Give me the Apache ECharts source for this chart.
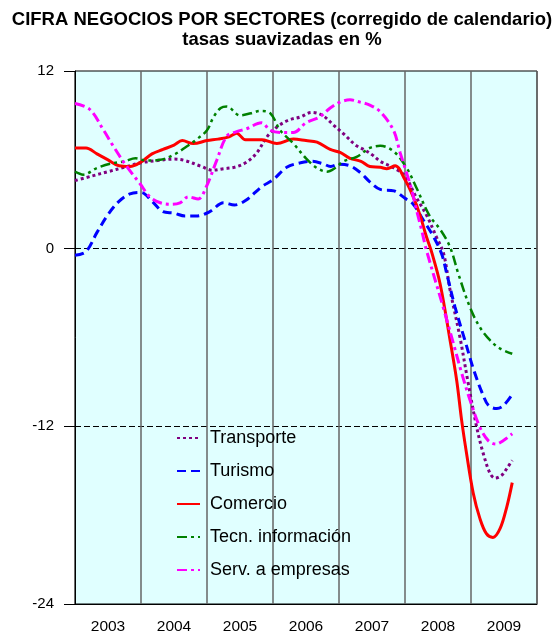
<!DOCTYPE html>
<html>
<head>
<meta charset="utf-8">
<script src="https://cdn.jsdelivr.net/npm/echarts@6/dist/echarts.min.js"></script>
<style>
html,body{margin:0;padding:0;background:#fff;}
#chart{width:559px;height:635px;}
</style>
</head>
<body>
<div id="chart"></div>
<script>
// x = month index since Jan 2003, y = %
const years = ['2003','2004','2005','2006','2007','2008','2009'];
const yTicks = [12, 0, -12, -24];

const transporte = [[0,4.6],[3,4.9],[6,5.2],[9,5.5],[12,5.8],[15,5.95],[18,6.05],[20,5.95],[23,5.55],[25,5.3],[27,5.4],[29,5.5],[31,5.8],[33,6.45],[35,7.6],[37,8.3],[39,8.7],[41,8.9],[43,9.2],[45,9.0],[47,8.35],[49,7.7],[51,7.0],[52.5,6.7],[54,6.35],[55.5,5.9],[58,5.45],[60,4.9],[62,3.5],[64,2.2],[65.7,0.8],[67,-0.3],[68.2,-2.8],[70,-6.0],[71.5,-9.1],[73,-12.0],[74.2,-13.8],[75.5,-15.2],[76.4,-15.5],[77.6,-15.3],[78.5,-14.85],[79.5,-14.3]];

const turismo = [[0,-0.45],[2,-0.2],[4,1.1],[6,2.3],[8,3.2],[10,3.7],[12,3.8],[14,3.2],[16,2.5],[18,2.4],[20,2.2],[22,2.2],[24.5,2.5],[27,3.1],[29,2.95],[31,3.25],[34,4.2],[36,4.65],[38.5,5.5],[41,5.8],[43,5.9],[45,5.75],[46.5,5.55],[48,5.7],[50,5.6],[52,5.1],[53.5,4.55],[55.5,4.0],[58,3.9],[60,3.4],[61.5,3.0],[63.3,1.95],[65.2,0.8],[66.7,-0.4],[67.6,-1.7],[69.1,-3.95],[70.9,-6.2],[72.5,-8.2],[74.1,-9.8],[75.2,-10.6],[76.7,-10.8],[77.9,-10.6],[79.5,-9.85]];

const comercio = [[0,6.8],[2,6.8],[4,6.4],[6,6.0],[8,5.6],[10,5.55],[12,5.85],[14,6.4],[16,6.7],[18,7.0],[19.5,7.3],[21.5,7.1],[24,7.3],[26,7.4],[28,7.55],[29.4,7.8],[31,7.35],[34,7.35],[36.7,7.1],[39.7,7.4],[42,7.3],[44,7.2],[46.4,6.7],[48.2,6.5],[50,6.1],[52,5.9],[53.6,5.55],[55.5,5.5],[56.7,5.4],[58.2,5.6],[60,4.65],[61.5,3.5],[62.7,2.3],[63.9,0.8],[64.9,-0.3],[66.4,-2.4],[68.2,-6.2],[69.4,-8.9],[70.3,-11.6],[71.2,-13.85],[72.4,-16.5],[73.6,-18.2],[74.8,-19.25],[76,-19.5],[77.3,-18.9],[78.5,-17.45],[79.5,-15.8]];

const tecnInfo = [[0,5.2],[1.5,5.0],[4,5.45],[6.5,5.75],[9,5.9],[11,6.1],[13,5.95],[15.5,6.0],[18,6.35],[20.3,6.9],[22,7.35],[24,8.0],[25.2,8.9],[26.5,9.5],[27.6,9.6],[30,9.0],[32,9.15],[33.6,9.3],[35.5,9.15],[37.3,8.0],[39.7,7.1],[42,6.1],[44,5.45],[45.8,5.2],[47.3,5.45],[48.8,5.9],[51.2,6.2],[53.6,6.8],[55.5,6.95],[58,6.55],[60.3,5.45],[62.1,4.1],[64.5,2.2],[66.4,1.3],[68.2,0.1],[69.7,-1.7],[71.8,-3.95],[73.6,-5.3],[75.5,-6.2],[77.3,-6.75],[79.5,-7.1]];

const servEmpresas = [[0,9.8],[2.7,9.4],[5.2,8.0],[7,6.9],[9.4,5.55],[11.8,4.4],[13.6,3.5],[15.5,3.1],[17.3,3.0],[19.1,3.1],[20.6,3.5],[22.4,3.35],[23.9,4.2],[25.8,6.0],[27.6,7.6],[29.4,7.9],[31.2,8.1],[33.9,8.5],[35.5,8.0],[37.3,7.85],[39.7,7.85],[42,8.5],[44.5,8.9],[46.4,9.5],[48.2,9.9],[50,10.05],[51.8,9.9],[53.6,9.7],[55.5,9.25],[57.9,8.0],[59.1,6.5],[60.3,5.1],[61.2,4.0],[62.1,2.6],[63,1.3],[63.9,-0.1],[66.9,-3.9],[68.8,-6.4],[70.3,-8.4],[71.8,-10.2],[73.6,-12.05],[75.1,-12.95],[76.5,-13.2],[77.9,-12.95],[79.5,-12.5]];

const FONT = 'Liberation Sans, Arial, sans-serif';

function mk(name, data, color, type, width) {
  return {
    name: name, type: 'line', data: data, xAxisIndex: 0,
    smooth: 0.35, symbol: 'none', showSymbol: false,
    lineStyle: { color: color, width: width, type: type, cap: 'butt' },
    itemStyle: { color: color },
    emphasis: { disabled: true },
    z: 3
  };
}

const chart = echarts.init(document.getElementById('chart'), null, { renderer: 'canvas' });
chart.setOption({
  animation: false,
  backgroundColor: '#fff',
  title: {
    text: 'CIFRA NEGOCIOS POR SECTORES (corregido de calendario)\ntasas suavizadas en %',
    left: 282, textAlign: 'center', top: 10, padding: 0,
    textStyle: { fontFamily: FONT, fontWeight: 'bold', fontSize: 18.5, lineHeight: 20, color: '#000' }
  },
  grid: {
    left: 75, right: 22, top: 71, bottom: 31,
    show: true, backgroundColor: '#E0FFFF', borderColor: '#000', borderWidth: 1
  },
  legend: {
    orient: 'vertical', left: 176, top: 429, padding: 0,
    itemWidth: 23, itemHeight: 14, itemGap: 15,
    itemStyle: { opacity: 0 },
    textStyle: { fontFamily: FONT, fontSize: 18, color: '#000', lineHeight: 18, padding: [0, 0, 0, 5] },
    data: ['Transporte', 'Turismo', 'Comercio', 'Tecn. información', 'Serv. a empresas']
  },
  xAxis: [
    {
      type: 'value', min: 0, max: 84, interval: 12,
      axisLine: { show: true, onZero: false, lineStyle: { color: '#000', width: 1 } },
      axisTick: { show: false }, axisLabel: { show: false },
      splitLine: { show: true, lineStyle: { color: '#666', width: 1.5 } }
    },
    {
      type: 'category', data: years, position: 'bottom', boundaryGap: true,
      axisLine: { show: false, onZero: false }, axisTick: { show: false }, splitLine: { show: false },
      axisLabel: { fontFamily: FONT, fontSize: 15.5, color: '#000', margin: 15 }
    }
  ],
  yAxis: {
    type: 'value', min: yTicks[3], max: yTicks[0], interval: 12,
    axisLine: { show: true, lineStyle: { color: '#000', width: 1 } },
    axisTick: { show: true, length: 11, lineStyle: { color: '#000', width: 1 } },
    axisLabel: { fontFamily: FONT, fontSize: 15, color: '#000', margin: 21 },
    splitLine: { show: true, showMinLine: false, showMaxLine: false, lineStyle: { color: '#000', width: 1, type: [6, 3] } }
  },
  series: [
    mk('Transporte', transporte, '#800080', [3, 3], 3),
    mk('Turismo', turismo, '#0000FF', [9, 5], 3),
    mk('Comercio', comercio, '#FF0000', 'solid', 3),
    mk('Tecn. información', tecnInfo, '#008000', [10, 4, 3, 4, 3, 4], 2.5),
    mk('Serv. a empresas', servEmpresas, '#FF00FF', [10, 4, 3, 4], 3)
  ]
});
</script>
</body>
</html>
